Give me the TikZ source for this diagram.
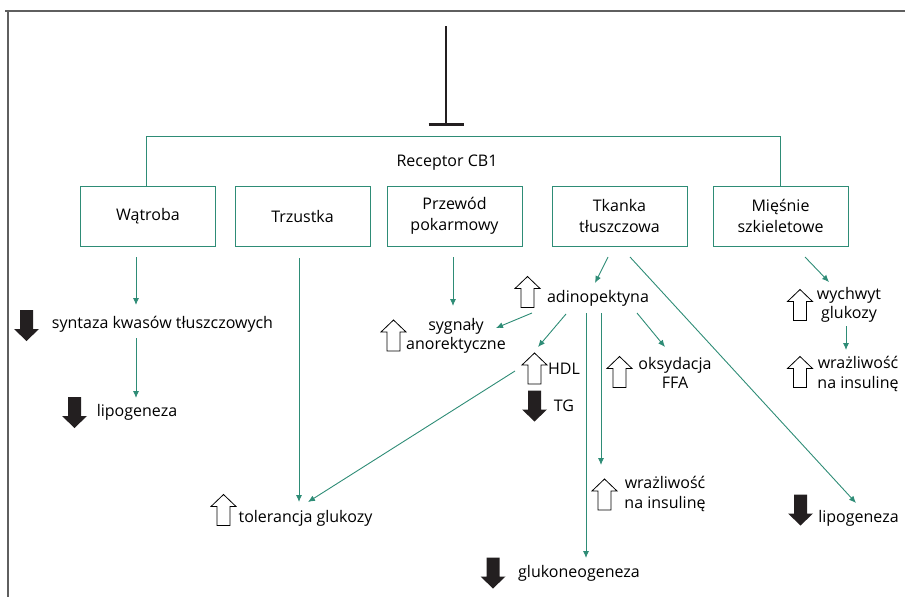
\documentclass[tikz,border=0pt]{standalone}
\usepackage{fontspec}
\setmainfont{Open Sans}
\usetikzlibrary{positioning, calc, arrows.meta}
\definecolor{cbteal}{RGB}{46,140,118}
\definecolor{cbframe}{RGB}{95,95,95}
\definecolor{cbdark}{RGB}{35,31,32}
\tikzset{organ/.style={draw=cbteal, line width=0.9pt, minimum width=135pt, minimum height=60pt, align=center, font=\fontsize{16}{21}\selectfont}}
\tikzset{lbl/.style={inner sep=0pt, align=center, font=\fontsize{16}{19.5}\selectfont}}
\tikzset{flow/.style={draw=cbteal, line width=0.9pt, -{Latex[length=7pt,width=6pt]}}}
\tikzset{link/.style={draw=cbteal, line width=0.9pt}}
\tikzset{upblk/.pic={\draw[black, line width=0.8pt, fill=white] (-6.5,15.5) -- (-6.5,-3.5) -- (-12.5,-3.5) -- (0,-15.5) -- (12.5,-3.5) -- (6.5,-3.5) -- (6.5,15.5) -- cycle;}}
\tikzset{downblk/.pic={\fill[cbdark] (-6.5,-15.5) -- (-6.5,3.5) -- (-12.5,3.5) -- (0,15.5) -- (12.5,3.5) -- (6.5,3.5) -- (6.5,-15.5) -- cycle;}}

\begin{document}
\begin{tikzpicture}[x=1pt, y=-1pt]
      \useasboundingbox (0,0) rectangle (905,597);
      % frame
      \draw[cbframe, line width=2pt] (5,11) -- (905,11);
      \draw[cbframe, line width=2pt] (8,11) -- (8,597);

      % inhibitor
      \coordinate (inh) at (446,26);
      \coordinate (inhbar) at (446,124);
      \draw[cbdark, line width=1.6pt] (inh) -- (inhbar);
      \draw[cbdark, line width=3pt] ([xshift=-17.5pt]inhbar) -- ([xshift=17.5pt]inhbar);

      % receptor and organs
      \node[lbl] (rec) at (447,163) {Receptor CB1};
      \node[organ] (wat) at (148,216) {Wątroba};
      \node[organ] (trz) at (302.5,216) {Trzustka};
      \node[organ] (prz) at (454.5,216) {Przewód\\pokarmowy};
      \node[organ] (tka) at (619.5,216) {Tkanka\\tłuszczowa};
      \node[organ] (mie) at (780.5,216) {Mięśnie\\szkieletowe};
      \draw[link] ([xshift=-2pt]wat.north) -- ++(0,-49) -| (mie.north);

      % effects
      \node[lbl] (syn) at (162.5,324) {syntaza kwasów tłuszczowych};
      \node[lbl] (lip1) at (137,412) {lipogeneza};
      \node[lbl] (tol) at (305.5,518) {tolerancja glukozy};
      \node[lbl] (adi) at (598,298) {adinopektyna};
      \node[lbl] (syg) at (456,336) {sygnały\\anorektyczne};
      \node[lbl] (hdl) at (564,369) {HDL};
      \node[lbl] (tg) at (564,406) {TG};
      \node[lbl] (oks) at (675,373) {oksydacja\\FFA};
      \node[lbl] (wra1) at (665,494) {wrażliwość\\na insulinę};
      \node[lbl] (glu) at (579,573) {glukoneogeneza};
      \node[lbl] (lip2) at (858.5,518) {lipogeneza};
      \node[lbl] (wyc) at (849,305) {wychwyt\\glukozy};
      \node[lbl] (wra2) at (858,374) {wrażliwość\\na insulinę};

      % up / down markers
      \pic at (26.5,325.5) {downblk};
      \pic at (74.5,412.5) {downblk};
      \pic at (223.5,510) {upblk};
      \pic at (527.5,292) {upblk};
      \pic at (393.5,335.5) {upblk};
      \pic at (534.5,368.5) {upblk};
      \pic at (534.5,406) {downblk};
      \pic at (619.5,372) {upblk};
      \pic at (604.5,494.5) {upblk};
      \pic at (493,573) {downblk};
      \pic at (800.5,510) {downblk};
      \pic at (800,305) {upblk};
      \pic at (800,372) {upblk};

      % connectors
      \draw[flow] ([shift={(-12,41)}]wat.center) -- ([shift={(-26.5,-19)}]syn.center);
      \draw[flow] ([shift={(-26.5,14)}]syn.center) -- ([shift={(-1,-14)}]lip1.center);
      \draw[flow] ([shift={(-3.5,42)}]trz.center) -- ([shift={(-6.5,-16)}]tol.center);
      \draw[flow] ([shift={(-1.5,41)}]prz.center) -- ([shift={(-3,-30)}]syg.center);
      \draw[flow] ([shift={(-11.5,41)}]tka.center) -- ([shift={(-3,-15)}]adi.center);
      \draw[flow] ([shift={(10.5,41)}]tka.center) -- ([shift={(-2.5,-15)}]lip2.center);
      \draw[flow] ([shift={(-66,15)}]adi.center) -- ([shift={(40,-8)}]syg.center);
      \draw[flow] ([shift={(-32,16)}]adi.center) -- ([shift={(-26,-22)}]hdl.center);
      \draw[flow] ([shift={(-49,2)}]hdl.center) -- ([shift={(2.5,-16)}]tol.center);
      \draw[flow] ([shift={(-12,15)}]adi.center) -- ([shift={(7,-15)}]glu.center);
      \draw[flow] ([shift={(3,15)}]adi.center) -- ([shift={(-64,-29)}]wra1.center);
      \draw[flow] ([shift={(39,15)}]adi.center) -- ([shift={(-10,-26)}]oks.center);
      \draw[flow] ([shift={(24.5,41)}]mie.center) -- ([shift={(-20,-23)}]wyc.center);
      \draw[flow] ([shift={(-3,21)}]wyc.center) -- ([shift={(-12,-24)}]wra2.center);
    \end{tikzpicture}
\end{document}
